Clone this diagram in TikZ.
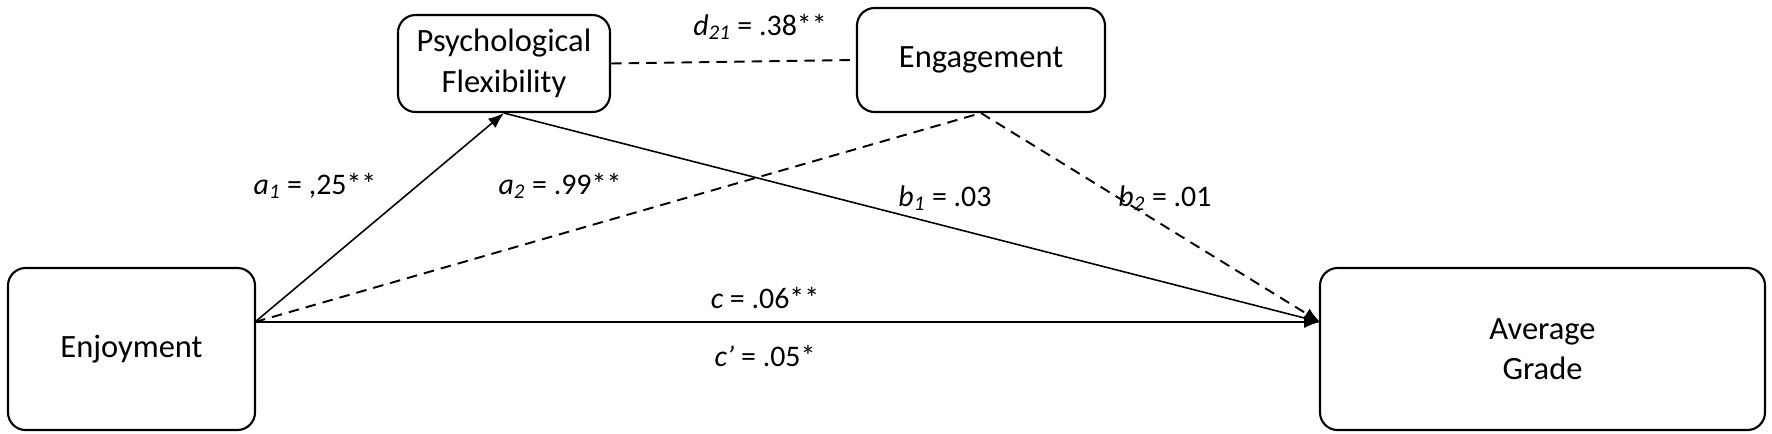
\documentclass[tikz,border=0pt]{standalone}
\usepackage{fontspec}
\setmainfont{Carlito}
\usetikzlibrary{arrows.meta,positioning}

\begin{document}
\begin{tikzpicture}[
    x=0.02cm, y=-0.02cm,
    % boxes for the variables
    var/.style={draw, rounded corners=10pt, line width=1.2pt, align=center,
      font=\fontsize{18.5}{23}\selectfont, inner sep=0pt},
    % path labels
    lab/.style={font=\fontsize{17}{20}\selectfont},
    path/.style={line width=0.9pt},
    dsh/.style={dash pattern=on 6pt off 4pt, line width=1.1pt},
  ]
  \useasboundingbox (0,0) rectangle (1772,433);
  \node[var, minimum width=247*0.02cm, minimum height=162*0.02cm] (enj) at (131.5,349) {Enjoyment};
  \node[var, minimum width=212*0.02cm, minimum height=97*0.02cm] (psy) at (504,63.5) {Psychological\\Flexibility};
  \node[var, minimum width=248*0.02cm, minimum height=104*0.02cm] (eng) at (981,60) {Engagement};
  \node[var, minimum width=445*0.02cm, minimum height=162*0.02cm] (avg) at (1542.5,349) {Average\\Grade};

  \coordinate (enjout) at (255,322);
  \coordinate (avgin) at (1320,322);

  \draw[path, -{Latex[length=9pt]}] (enjout) -- (psy.south);
  \draw[dsh] (enjout) -- (eng.south);
  \draw[path, -{Latex[length=9pt]}] (enjout) -- (avgin);
  \draw[path] (psy.south) -- (avgin);
  \draw[dsh, -{Latex[length=9pt]}] (eng.south) -- (avgin);
  \draw[dsh] (psy.east) -- (eng.west);

  \node[lab] (d21) at (760,27) {\textit{d\textsubscript{21}} = .38**};
  \node[lab] (a1) at (315,186) {\textit{a\textsubscript{1}} = ,25**};
  \node[lab] (a2) at (560,186) {\textit{a\textsubscript{2}} = .99**};
  \node[lab] (b1) at (945,198) {\textit{b\textsubscript{1}} = .03};
  \node[lab] (b2) at (1165,198) {\textit{b\textsubscript{2}} = .01};
  \node[lab] (c) at (765,298) {\textit{c} = .06**};
  \node[lab] (cp) at (765,356) {\textit{c'} = .05*};
\end{tikzpicture}
\end{document}
